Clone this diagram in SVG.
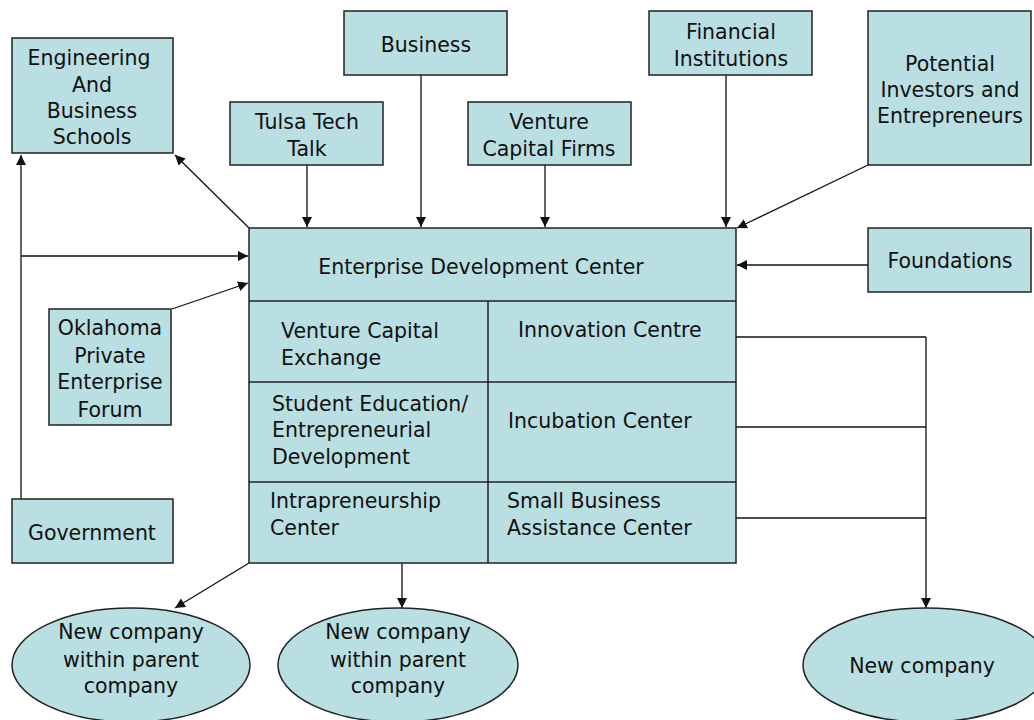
<svg xmlns="http://www.w3.org/2000/svg" width="1034" height="720" viewBox="0 0 1034 720">
<style>
.n{fill:#badfe2;stroke:#222;stroke-width:1.5}
.d{stroke:#222;stroke-width:1.5;fill:none}
.c{stroke:#111;stroke-width:1.3;fill:none}
.a{marker-end:url(#ah)}
text{font-family:"DejaVu Sans","Liberation Sans",sans-serif;font-size:20.5px;fill:#111}
.m{text-anchor:middle}
</style>
<defs>
<marker id="ah" viewBox="0 0 10 10" refX="10" refY="5" markerWidth="10" markerHeight="10" markerUnits="userSpaceOnUse" orient="auto">
<path d="M0,0 L10,5 L0,10 z" fill="#111"/>
</marker>
</defs>
<rect width="1034" height="720" fill="#fff"/>
<g id="connectors">
<line class="c a" x1="249" y1="228" x2="175" y2="155"/>
<line class="c a" x1="21" y1="499" x2="21" y2="155"/>
<line class="c a" x1="21" y1="256" x2="248" y2="256"/>
<line class="c a" x1="172" y1="309" x2="248" y2="283"/>
<line class="c a" x1="307" y1="165" x2="307" y2="227"/>
<line class="c a" x1="421" y1="75" x2="421" y2="227"/>
<line class="c a" x1="545" y1="165" x2="545" y2="227"/>
<line class="c a" x1="726" y1="75" x2="726" y2="227"/>
<line class="c a" x1="868" y1="165" x2="737" y2="228"/>
<line class="c a" x1="868" y1="265" x2="737" y2="265"/>
<line class="c" x1="736" y1="337" x2="926" y2="337"/>
<line class="c" x1="736" y1="427" x2="926" y2="427"/>
<line class="c" x1="736" y1="518" x2="926" y2="518"/>
<line class="c a" x1="926" y1="337" x2="926" y2="608"/>
<line class="c a" x1="249" y1="563" x2="175" y2="608"/>
<line class="c a" x1="402" y1="563" x2="402" y2="608"/>
</g>
<g id="engineering"><rect class="n" x="12" y="38" width="161" height="115"/>
<text class="m" x="89" y="65">Engineering</text><text class="m" x="92" y="92">And</text><text class="m" x="92" y="118">Business</text><text class="m" x="92" y="144">Schools</text></g>
<g id="tulsa"><rect class="n" x="230" y="102" width="153" height="63"/>
<text class="m" x="307" y="129">Tulsa Tech</text><text class="m" x="307" y="156">Talk</text></g>
<g id="business"><rect class="n" x="344" y="11" width="163" height="64"/>
<text class="m" x="426" y="52">Business</text></g>
<g id="vcf"><rect class="n" x="468" y="102" width="163" height="63"/>
<text class="m" x="549" y="129">Venture</text><text class="m" x="549" y="156">Capital Firms</text></g>
<g id="financial"><rect class="n" x="649" y="11" width="163" height="64"/>
<text class="m" x="731" y="39">Financial</text><text class="m" x="731" y="66">Institutions</text></g>
<g id="potential"><rect class="n" x="868" y="11" width="163" height="154"/>
<text class="m" x="950" y="71">Potential</text><text class="m" x="950" y="97">Investors and</text><text class="m" x="950" y="123">Entrepreneurs</text></g>
<g id="foundations"><rect class="n" x="868" y="228" width="163" height="64"/>
<text class="m" x="950" y="268">Foundations</text></g>
<g id="oklahoma"><rect class="n" x="49" y="309" width="122" height="116"/>
<text class="m" x="110" y="335">Oklahoma</text><text class="m" x="110" y="363">Private</text><text class="m" x="110" y="389">Enterprise</text><text class="m" x="110" y="417">Forum</text></g>
<g id="government"><rect class="n" x="12" y="499" width="161" height="64"/>
<text class="m" x="92" y="540">Government</text></g>
<g id="edc"><rect class="n" x="249" y="228" width="487" height="335"/>
<line class="d" x1="249" y1="301" x2="736" y2="301"/>
<line class="d" x1="249" y1="382" x2="736" y2="382"/>
<line class="d" x1="249" y1="482" x2="736" y2="482"/>
<line class="d" x1="488" y1="301" x2="488" y2="563"/>
<text class="m" x="481" y="274">Enterprise Development Center</text>
<text x="281" y="338">Venture Capital</text><text x="281" y="365">Exchange</text>
<text x="518" y="337">Innovation Centre</text>
<text x="272" y="411">Student Education/</text><text x="272" y="437">Entrepreneurial</text><text x="272" y="464">Development</text>
<text x="508" y="428">Incubation Center</text>
<text x="270" y="508">Intrapreneurship</text><text x="270" y="535">Center</text>
<text x="507" y="508">Small Business</text><text x="507" y="535">Assistance Center</text>
</g>
<g id="newco1"><ellipse class="n" cx="131" cy="665" rx="119" ry="57"/>
<text class="m" x="131" y="639">New company</text><text class="m" x="131" y="667">within parent</text><text class="m" x="131" y="693">company</text></g>
<g id="newco2"><ellipse class="n" cx="398" cy="665" rx="120" ry="57"/>
<text class="m" x="398" y="639">New company</text><text class="m" x="398" y="667">within parent</text><text class="m" x="398" y="693">company</text></g>
<g id="newco3"><ellipse class="n" cx="926" cy="665" rx="123" ry="57"/>
<text class="m" x="922" y="673">New company</text></g>
</svg>
